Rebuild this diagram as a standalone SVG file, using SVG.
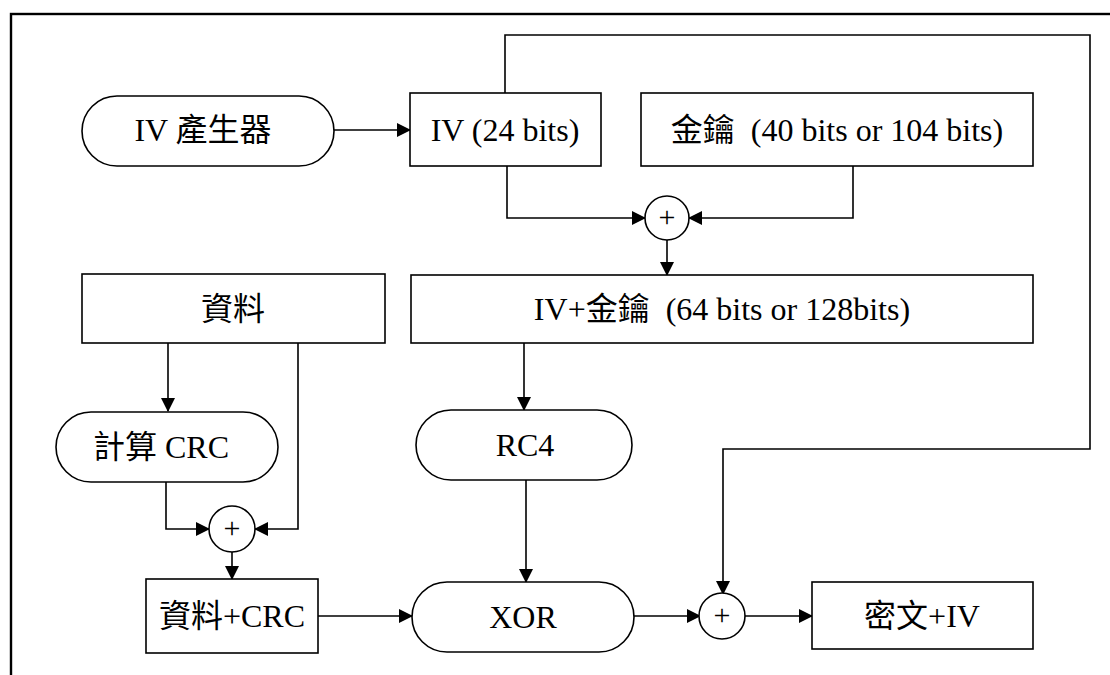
<svg xmlns="http://www.w3.org/2000/svg" width="1110" height="675" viewBox="0 0 1110 675">
  <style>
    .shape { fill: #ffffff; stroke: #000000; stroke-width: 1.6; }
    .wire { fill: none; stroke: #000000; stroke-width: 1.6; }
    .label { font-family: "Liberation Serif", "Noto Sans CJK TC", serif; font-size: 32px; fill: #000000; text-anchor: middle; }
    .plus { font-family: "Liberation Serif", serif; font-size: 30px; fill: #000000; text-anchor: middle; }
  </style>
  <defs>
    <marker id="arrow" markerUnits="userSpaceOnUse" markerWidth="14" markerHeight="14" viewBox="0 0 14 14" refX="13" refY="7" orient="auto">
      <path d="M0,0 L14,7 L0,14 Z" fill="#000000"/>
    </marker>
  </defs>

  <rect width="1110" height="675" fill="#ffffff"/>
  <!-- page frame (runs off the right and bottom edges) -->
  <rect x="11" y="14" width="1120" height="700" fill="none" stroke="#000000" stroke-width="2.4"/>

  <g id="connectors">
    <path class="wire" d="M334,130 L410,130" marker-end="url(#arrow)"/>
    <path class="wire" d="M507,166 L507,218 L645,218" marker-end="url(#arrow)"/>
    <path class="wire" d="M853,166 L853,218 L689,218" marker-end="url(#arrow)"/>
    <path class="wire" d="M667,240 L667,275" marker-end="url(#arrow)"/>
    <path class="wire" d="M505,93 L505,35 L1090,35 L1090,449 L723,449 L723,594" marker-end="url(#arrow)"/>
    <path class="wire" d="M524,343 L524,410" marker-end="url(#arrow)"/>
    <path class="wire" d="M526,480 L526,582" marker-end="url(#arrow)"/>
    <path class="wire" d="M168,343 L168,411" marker-end="url(#arrow)"/>
    <path class="wire" d="M298,343 L298,529 L255,529" marker-end="url(#arrow)"/>
    <path class="wire" d="M166,482 L166,529 L209,529" marker-end="url(#arrow)"/>
    <path class="wire" d="M232,552 L232,579" marker-end="url(#arrow)"/>
    <path class="wire" d="M318,616 L412,616" marker-end="url(#arrow)"/>
    <path class="wire" d="M634,616 L700,616" marker-end="url(#arrow)"/>
    <path class="wire" d="M745,616 L812,616" marker-end="url(#arrow)"/>
  </g>

  <g id="iv-generator">
    <rect class="shape" x="82" y="96" width="252" height="70" rx="35" ry="35"/>
    <text class="label" x="203" y="141">IV 產生器</text>
  </g>

  <g id="iv">
    <rect class="shape" x="410" y="93" width="191" height="73"/>
    <text class="label" x="505" y="141">IV (24 bits)</text>
  </g>

  <g id="key">
    <rect class="shape" x="641" y="93" width="392" height="73"/>
    <text class="label" x="837" y="141" xml:space="preserve">金鑰  (40 bits or 104 bits)</text>
  </g>

  <g id="sum-key">
    <circle class="shape" cx="667" cy="218" r="22"/>
    <text class="plus" x="667" y="227">+</text>
  </g>

  <g id="iv-key">
    <rect class="shape" x="411" y="275" width="622" height="68"/>
    <text class="label" x="722" y="320" xml:space="preserve">IV+金鑰  (64 bits or 128bits)</text>
  </g>

  <g id="data">
    <rect class="shape" x="82" y="274" width="303" height="69"/>
    <text class="label" x="233" y="320">資料</text>
  </g>

  <g id="crc">
    <rect class="shape" x="56" y="412" width="222" height="70" rx="35" ry="35"/>
    <text class="label" x="161" y="458">計算 CRC</text>
  </g>

  <g id="sum-crc">
    <circle class="shape" cx="232" cy="529" r="23"/>
    <text class="plus" x="232" y="538">+</text>
  </g>

  <g id="data-crc">
    <rect class="shape" x="146" y="579" width="172" height="74"/>
    <text class="label" x="232" y="627">資料+CRC</text>
  </g>

  <g id="rc4">
    <rect class="shape" x="416" y="410" width="216" height="70" rx="35" ry="35"/>
    <text class="label" x="525" y="456">RC4</text>
  </g>

  <g id="xor">
    <rect class="shape" x="412" y="582" width="222" height="70" rx="35" ry="35"/>
    <text class="label" x="523" y="628">XOR</text>
  </g>

  <g id="sum-out">
    <circle class="shape" cx="722" cy="616" r="23"/>
    <text class="plus" x="722" y="625">+</text>
  </g>

  <g id="cipher">
    <rect class="shape" x="812" y="582" width="221" height="67"/>
    <text class="label" x="922" y="627">密文+IV</text>
  </g>
</svg>
